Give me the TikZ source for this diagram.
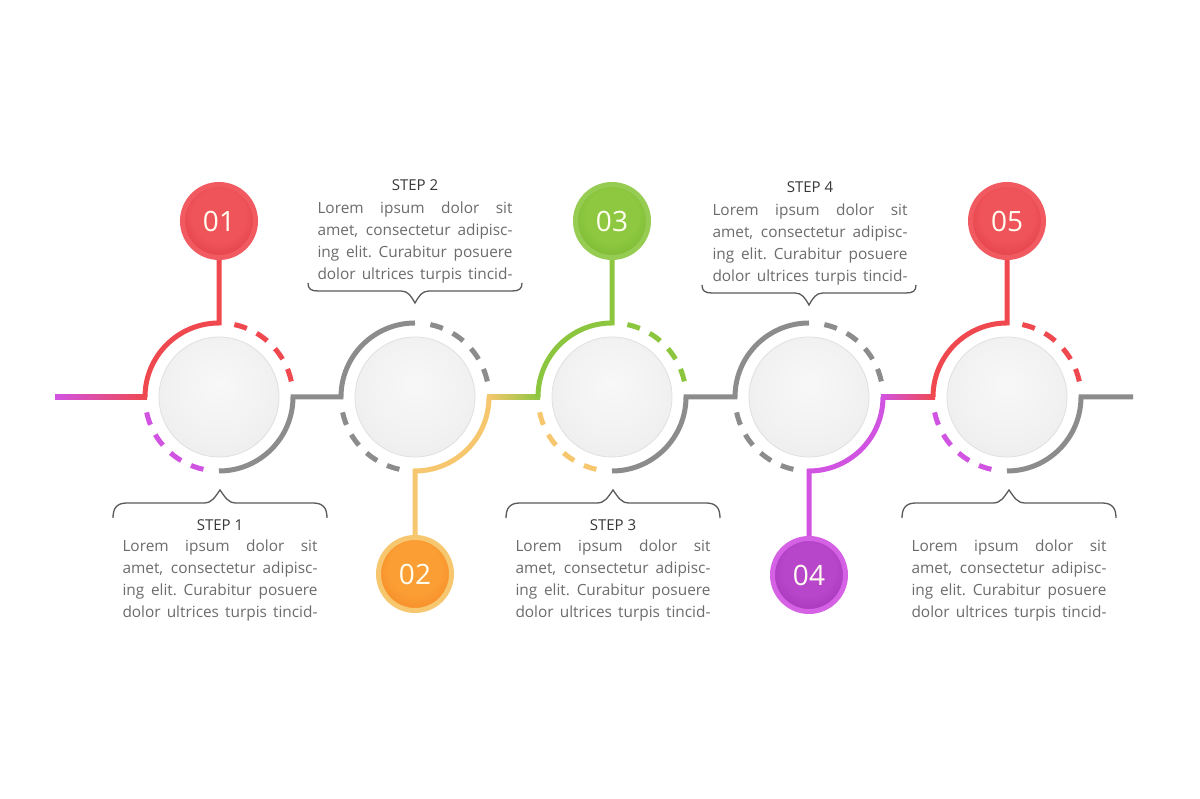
\documentclass[tikz,border=0pt]{standalone}
\usepackage{fontspec}
\setmainfont{Open Sans}
\usetikzlibrary{calc}
\definecolor{cred}{HTML}{F0484F}
\definecolor{cmag}{HTML}{D153E2}
\definecolor{cyel}{HTML}{F7C76F}
\definecolor{cgrn}{HTML}{8CC63F}
\definecolor{cgry}{HTML}{8C8C8C}
\definecolor{ctxt}{HTML}{6C6C6C}
\definecolor{clab}{HTML}{383838}
\definecolor{cbrc}{HTML}{5A5A5A}
\definecolor{bin}{HTML}{EC4750}
\definecolor{bout}{HTML}{C8202C}
\definecolor{ballA}{HTML}{F8F8F8}
\definecolor{ballB}{HTML}{F1F1F1}
\definecolor{ballC}{HTML}{E8E8E8}
\definecolor{ballD}{HTML}{DEDEDE}
\pgfdeclareradialshading[bin,bout]{badgeshade}{\pgfpoint{0bp}{6bp}}{color(0bp)=(bin); color(18bp)=(bin); color(50bp)=(bout)}
\pgfdeclareradialshading{ballshade}{\pgfpoint{0bp}{6bp}}{color(0bp)=(ballA); color(22bp)=(ballB); color(42bp)=(ballC); color(50bp)=(ballD)}
\newcommand\jl[1]{\makebox[195pt][s]{\spaceskip=0.26em plus 1fil minus 0.05em\relax\xspaceskip=\spaceskip #1}}
\newcommand\loremtext{\jl{Lorem ipsum dolor sit}\\\jl{amet, consectetur adipisc-}\\\jl{ing elit. Curabitur posuere}\\\jl{dolor ultrices turpis tincid-}}
\newcommand\DownBrace[2]{%
  \draw[bracestyle] (#1-107,#2+8) .. controls (#1-107,#2+2) and (#1-104,#2) .. (#1-97,#2) -- (#1-14,#2)
    .. controls (#1-7,#2) and (#1-4,#2-5) .. (#1,#2-12)
    .. controls (#1+4,#2-5) and (#1+7,#2) .. (#1+14,#2) -- (#1+97,#2)
    .. controls (#1+104,#2) and (#1+107,#2+2) .. (#1+107,#2+8);}
\newcommand\UpBrace[2]{%
  \draw[bracestyle] (#1-107,#2-15) .. controls (#1-107,#2-5) and (#1-103,#2) .. (#1-93,#2) -- (#1-16,#2)
    .. controls (#1-8,#2) and (#1-5,#2+6) .. (#1,#2+13)
    .. controls (#1+5,#2+6) and (#1+8,#2) .. (#1+16,#2) -- (#1+93,#2)
    .. controls (#1+103,#2) and (#1+107,#2-5) .. (#1+107,#2-15);}
\tikzset{
  conn/.style={line width=5pt},
  ball/.style={circle, minimum size=120pt, inner sep=0pt, shade, shading=ballshade, draw=black!12, line width=0.8pt},
  badge/.style={circle, minimum size=73pt, inner sep=0pt, line width=5pt, shade, shading=badgeshade, text=white!94!yellow, font=\fontsize{28}{30}\selectfont},
  bcols/.code 2 args={\definecolor{bin}{HTML}{#1}\definecolor{bout}{HTML}{#2}},
  dashedarc/.style={line width=5pt, dash pattern=on 13pt off 11pt},
  bodytxt/.style={text width=195pt, align=left, inner sep=0pt, text=ctxt, font=\fontsize{15.4}{21.8}\selectfont},
  steplabel/.style={inner sep=0pt, text=clab, font=\fontsize{15}{16}\selectfont},
  bracestyle/.style={draw=cbrc, line width=1.3pt}
}
\begin{document}
\begin{tikzpicture}[x=1pt,y=1pt]
\useasboundingbox[fill=white] (0,0) rectangle (1200,799);
% main circles
\node[ball] (c1) at (219,402) {};
\node[ball] (c2) at (415,402) {};
\node[ball] (c3) at (612,402) {};
\node[ball] (c4) at (809,402) {};
\node[ball] (c5) at (1007,402) {};
\coordinate (s0) at (55,402);
\coordinate (e5) at (1133,402);
\path (219,578) coordinate (p1) (415,225) coordinate (p2) (612,578) coordinate (p3) (809,224) coordinate (p4) (1007,578) coordinate (p5);
% red chain 1
\shade[left color=cmag, right color=cred] ($(s0)+(0,-2.5)$) rectangle ($(c1.center)+(-72,2.5)$);
\draw[conn, cred] ($(c1.center)+(-74,0)$) arc[start angle=180, end angle=90, radius=74pt] -- (p1);
% gray chain 1-2
\draw[conn, cgry] ($(c1.center)+(0,-74)$) arc[start angle=-90, end angle=0, radius=74pt] -- ($(c2.center)+(-74,0)$) arc[start angle=180, end angle=90, radius=74pt];
% yellow-green chain
\draw[conn, cyel] (p2) -- ($(c2.center)+(0,-74)$) arc[start angle=-90, end angle=0, radius=74pt];
\shade[left color=cyel, right color=cgrn] ($(c2.center)+(72,-2.5)$) rectangle ($(c3.center)+(-72,2.5)$);
\draw[conn, cgrn] ($(c3.center)+(-74,0)$) arc[start angle=180, end angle=90, radius=74pt] -- (p3);
% gray chain 3-4
\draw[conn, cgry] ($(c3.center)+(0,-74)$) arc[start angle=-90, end angle=0, radius=74pt] -- ($(c4.center)+(-74,0)$) arc[start angle=180, end angle=90, radius=74pt];
% magenta-red chain
\draw[conn, cmag] (p4) -- ($(c4.center)+(0,-74)$) arc[start angle=-90, end angle=0, radius=74pt];
\shade[left color=cmag, right color=cred] ($(c4.center)+(72,-2.5)$) rectangle ($(c5.center)+(-72,2.5)$);
\draw[conn, cred] ($(c5.center)+(-74,0)$) arc[start angle=180, end angle=90, radius=74pt] -- (p5);
% gray end
\draw[conn, cgry] ($(c5.center)+(0,-74)$) arc[start angle=-90, end angle=0, radius=74pt] -- (e5);
% dashed arcs
\draw[dashedarc, cred] ($(c1.center)+(78:74pt)$) arc[start angle=78, end angle=12, radius=74pt];
\draw[dashedarc, cmag] ($(c1.center)+(192:74pt)$) arc[start angle=192, end angle=258, radius=74pt];
\draw[dashedarc, cgry] ($(c2.center)+(78:74pt)$) arc[start angle=78, end angle=12, radius=74pt];
\draw[dashedarc, cgry] ($(c2.center)+(192:74pt)$) arc[start angle=192, end angle=258, radius=74pt];
\draw[dashedarc, cgrn] ($(c3.center)+(78:74pt)$) arc[start angle=78, end angle=12, radius=74pt];
\draw[dashedarc, cyel] ($(c3.center)+(192:74pt)$) arc[start angle=192, end angle=258, radius=74pt];
\draw[dashedarc, cgry] ($(c4.center)+(78:74pt)$) arc[start angle=78, end angle=12, radius=74pt];
\draw[dashedarc, cgry] ($(c4.center)+(192:74pt)$) arc[start angle=192, end angle=258, radius=74pt];
\draw[dashedarc, cred] ($(c5.center)+(78:74pt)$) arc[start angle=78, end angle=12, radius=74pt];
\draw[dashedarc, cmag] ($(c5.center)+(192:74pt)$) arc[start angle=192, end angle=258, radius=74pt];
% badges
\node[badge, bcols={F0545B}{CC1F2C}, draw=cred!90!white] (b1) at (p1) {01};
\node[badge, bcols={FB9E34}{EC6A12}, draw=cyel] (b2) at (p2) {02};
\node[badge, bcols={8DC840}{5E9E1E}, draw=cgrn!90!white] (b3) at (p3) {03};
\node[badge, bcols={B846CA}{8A1A9E}, draw=cmag!92!white] (b4) at (p4) {04};
\node[badge, bcols={F0545B}{CC1F2C}, draw=cred!90!white] (b5) at (p5) {05};
% braces
\DownBrace{415}{508}
\DownBrace{809}{506}
\UpBrace{220}{296}
\UpBrace{613}{296}
\UpBrace{1009}{296}
% labels and texts
\node[steplabel] (l2) at (415,614) {STEP 2};
\node[bodytxt] (t2) at (415,556.5) {\loremtext};
\node[steplabel] (l4) at (810,612) {STEP 4};
\node[bodytxt] (t4) at (810,554.5) {\loremtext};
\node[steplabel] (l1) at (220,274) {STEP 1};
\node[bodytxt] (t1) at (220,218.5) {\loremtext};
\node[steplabel] (l3) at (613,274) {STEP 3};
\node[bodytxt] (t3) at (613,218.5) {\loremtext};
\node[bodytxt] (t5) at (1009,218.5) {\loremtext};
\end{tikzpicture}
\end{document}
